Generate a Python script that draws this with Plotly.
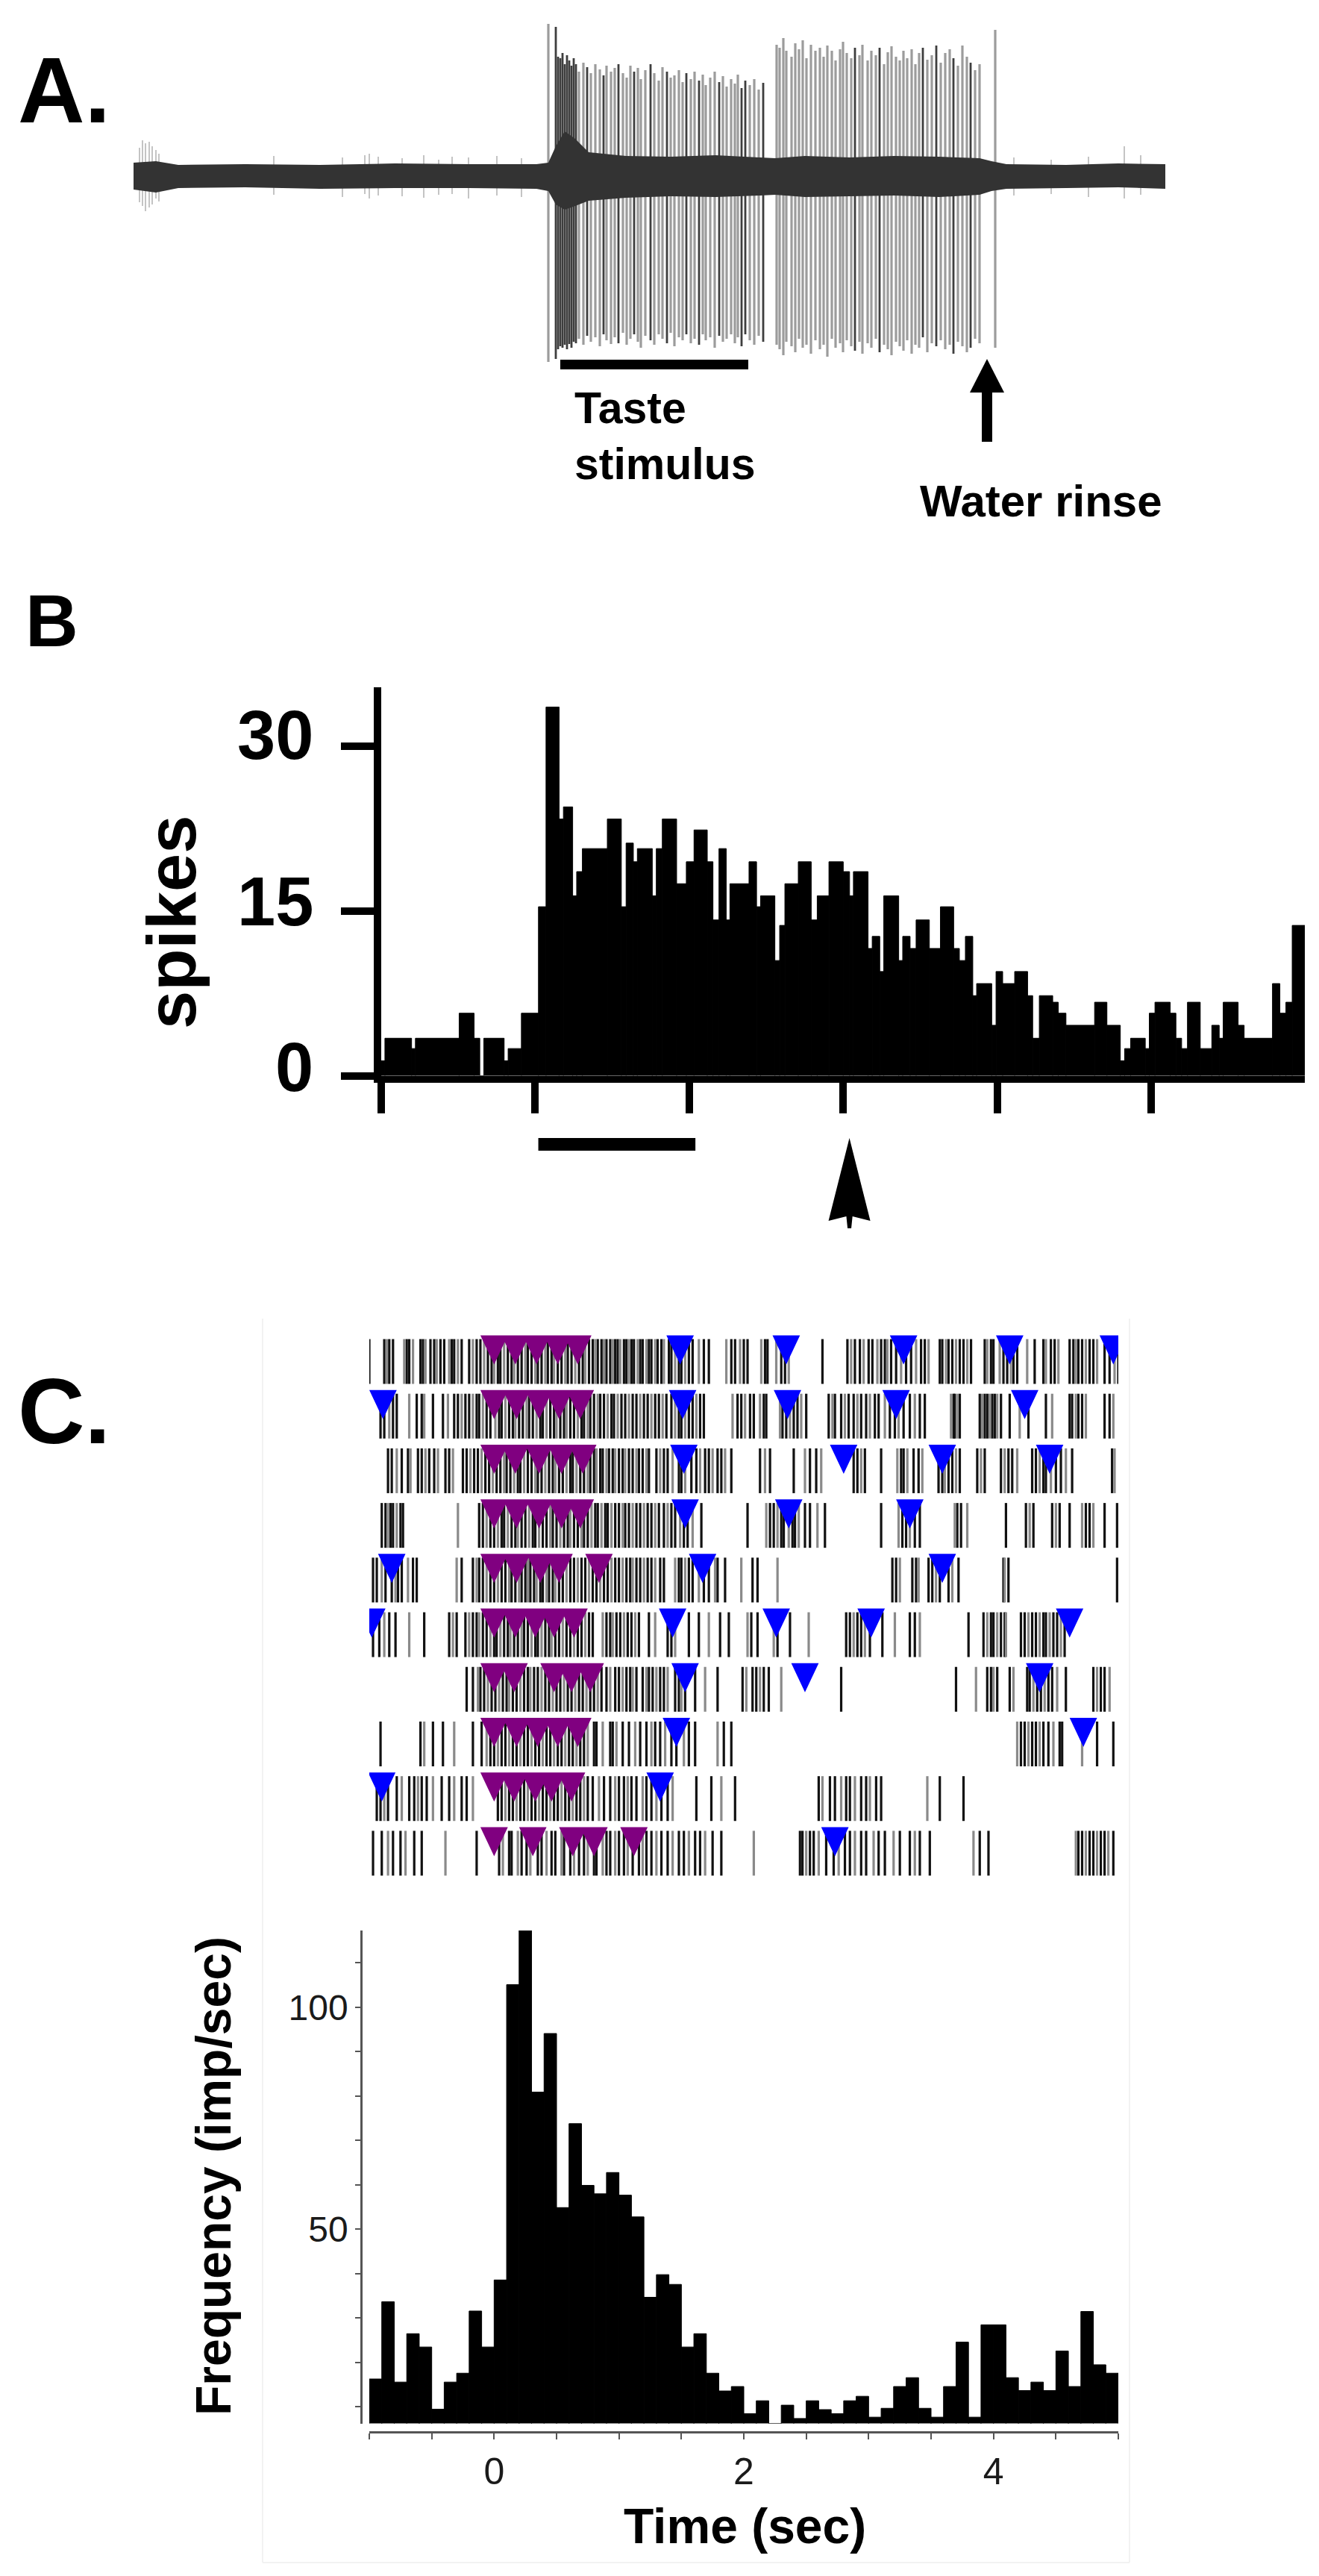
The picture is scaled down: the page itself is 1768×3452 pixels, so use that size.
import plotly.graph_objects as go

W, H = 1768, 3452
FONT = "Liberation Sans, Arial, Helvetica, sans-serif"

# ---------------- Panel A: whole-nerve trace ----------------
# x in samples (0..1383), y amplitude (arbitrary units, 0 = baseline)
a_env_x = [0, 30, 60, 150, 250, 350, 450, 540, 556, 566, 578, 592, 610, 660,
           720, 780, 840, 860, 900, 960, 1020, 1080, 1134, 1150, 1170, 1250, 1320, 1383]
a_env_hi = [18, 20, 15, 16, 15, 17, 16, 16, 18, 40, 60, 50, 32, 27,
            26, 28, 25, 24, 27, 25, 27, 26, 24, 20, 16, 15, 17, 16]
a_env_lo = [-18, -22, -16, -15, -17, -16, -16, -17, -20, -38, -45, -40, -33, -29,
            -27, -28, -26, -25, -28, -27, -26, -28, -25, -20, -17, -16, -15, -17]

a_spk_x = [556, 566, 569, 572, 575, 578, 581, 584, 587, 590,
           593, 597, 603, 608, 613, 619, 625, 630, 634, 640,
           645, 650, 656, 661, 666, 671, 676, 680, 686, 693,
           698, 704, 709, 715, 720, 725, 731, 736, 741, 747,
           752, 758, 763, 767, 773, 779, 785, 790, 795, 801,
           806, 810, 815, 820, 826, 832, 838, 844, 862, 866,
           871, 875, 882, 887, 892, 897, 902, 908, 914, 920,
           925, 930, 936, 941, 947, 951, 956, 962, 967, 973,
           977, 984, 989, 995, 1000, 1006, 1011, 1016, 1022, 1027,
           1032, 1037, 1043, 1048, 1053, 1058, 1064, 1070, 1076, 1082,
           1088, 1094, 1099, 1105, 1111, 1117, 1122, 1128, 1134, 1155]
a_spk_top = [204, 200, 160, 158, 165, 150, 162, 155, 148, 158,
             150, 140, 152, 146, 138, 150, 143, 135, 148, 140,
             145, 150, 138, 132, 148, 140, 145, 130, 142, 150,
             138, 128, 146, 140, 132, 135, 142, 126, 138, 130,
             140, 128, 136, 122, 132, 140, 126, 134, 120, 130,
             124, 136, 118, 128, 122, 130, 116, 125, 176, 172,
             185, 168, 160, 178, 170, 182, 158, 176, 168, 172,
             160, 175, 168, 155, 170, 180, 165, 158, 172, 162,
             176, 155, 168, 162, 172, 150, 166, 174, 160, 155,
             168, 158, 170, 150, 165, 172, 156, 162, 175, 152,
             165, 170, 158, 148, 175, 160, 152, 142, 150, 196]
a_spk_bot = [-249, -245, -232, -228, -230, -226, -232, -225, -230, -222,
             -224, -218, -226, -214, -222, -216, -228, -212, -220, -225,
             -216, -224, -210, -226, -218, -212, -222, -230, -214, -220,
             -226, -212, -218, -224, -210, -228, -216, -220, -212, -224,
             -218, -226, -212, -220, -216, -230, -214, -222, -218, -212,
             -224, -216, -228, -212, -220, -226, -214, -222, -226, -232,
             -240, -222, -228, -236, -218, -230, -226, -238, -220, -232,
             -226, -242, -218, -230, -224, -236, -220, -228, -234, -222,
             -238, -224, -230, -218, -236, -226, -232, -240, -222, -228,
             -234, -220, -238, -226, -230, -216, -236, -224, -228, -220,
             -232, -226, -238, -222, -228, -236, -230, -218, -224, -230]
a_spk_dark = [0, 1, 1, 1, 1, 1, 1, 1, 1, 1,
              1, 0, 0, 1, 0, 0, 0, 1, 0, 0,
              0, 1, 0, 0, 0, 1, 0, 0, 0, 1,
              0, 0, 0, 1, 0, 0, 0, 0, 1, 0,
              0, 1, 0, 0, 0, 0, 1, 0, 0, 0,
              0, 0, 1, 1, 0, 0, 0, 1, 0, 0,
              0, 0, 0, 0, 0, 0, 0, 0, 0, 0,
              0, 0, 0, 0, 0, 0, 0, 0, 1, 0,
              0, 0, 0, 0, 1, 0, 0, 0, 0, 0,
              0, 0, 0, 0, 0, 1, 0, 0, 1, 0,
              0, 0, 1, 0, 0, 0, 1, 0, 0, 0]
a_small_x = [8, 12, 16, 21, 25, 30, 34, 188, 280, 310, 316, 328, 360, 389,
             409, 427, 449, 487, 520, 1180, 1230, 1280, 1328, 1350]
a_small_top = [38, 48, 44, 46, 40, 35, 30, 27, 25, 28, 30, 26, 24, 28,
               22, 26, 25, 27, 24, 25, 22, 26, 40, 28]
a_small_bot = [-35, -40, -47, -42, -38, -30, -34, -25, -28, -24, -30, -26, -27, -29,
               -25, -24, -30, -26, -28, -26, -24, -28, -30, -25]
a_stim = [572, 824]
a_rinse = 1144

# ---------------- Panel B: PSTH of the trace ----------------
b_edges = [0.000, 0.024, 0.197, 0.222, 0.506, 0.603, 0.640, 0.666, 0.798, 0.824,
           0.910, 1.021, 1.070, 1.155, 1.183, 1.243, 1.269, 1.306, 1.468, 1.559,
           1.590, 1.637, 1.663, 1.760, 1.786, 1.825, 1.918, 1.981, 2.031, 2.117,
           2.154, 2.193, 2.240, 2.264, 2.388, 2.437, 2.463, 2.556, 2.587, 2.621,
           2.708, 2.792, 2.831, 2.907, 3.000, 3.041, 3.066, 3.161, 3.188, 3.237,
           3.263, 3.360, 3.386, 3.434, 3.473, 3.559, 3.631, 3.717, 3.754, 3.793,
           3.841, 3.866, 3.964, 3.992, 4.035, 4.113, 4.197, 4.230, 4.273, 4.360,
           4.396, 4.446, 4.632, 4.712, 4.799, 4.827, 4.866, 4.961, 4.987, 5.024,
           5.123, 5.160, 5.197, 5.235, 5.318, 5.393, 5.441, 5.467, 5.564, 5.603,
           5.787, 5.835, 5.874, 5.915, 5.997]
b_spikes = [1.36, 3.42, 2.48, 3.42, 5.70, 3.42, 0.0, 3.42, 1.36, 2.48,
            5.70, 15.4, 33.6, 23.4, 24.5, 16.4, 18.6, 20.7, 23.4, 15.4,
            21.2, 19.5, 20.7, 16.4, 20.7, 23.4, 17.5, 19.5, 22.4, 19.5,
            14.2, 20.7, 14.2, 17.5, 19.5, 15.4, 16.4, 10.5, 13.7, 17.5,
            19.5, 14.2, 16.4, 19.5, 18.6, 16.4, 18.6, 11.6, 12.7, 9.5,
            16.4, 10.5, 12.7, 11.6, 14.2, 11.6, 15.4, 11.6, 10.5, 12.7,
            7.3, 8.4, 4.6, 9.5, 8.4, 9.5, 7.3, 3.42, 7.3, 6.7,
            5.70, 4.6, 6.7, 4.6, 1.36, 2.48, 3.42, 2.48, 5.70, 6.7,
            5.70, 3.42, 2.48, 6.7, 2.48, 4.6, 3.42, 6.7, 4.6, 3.42,
            8.4, 5.70, 6.7, 13.7]
b_yticks = [0, 15, 30]
b_stim = [1.02, 2.04]
b_rinse = 3.04

# ---------------- Panel C: raster (spike times, s) ----------------
trial_1 = [-1.00, -0.88, -0.86, -0.84, -0.81, -0.72, -0.70, -0.68, -0.65, -0.59, -0.57, -0.55,
           -0.51, -0.48, -0.46, -0.43, -0.40, -0.36, -0.34, -0.32, -0.29, -0.26, -0.20, -0.17,
           -0.14, -0.11, -0.08, -0.05, -0.02, 0.00, 0.03, 0.05, 0.08, 0.11, 0.14, 0.16, 0.19,
           0.22, 0.25, 0.27, 0.30, 0.33, 0.35, 0.38, 0.41, 0.43, 0.46, 0.48, 0.51, 0.54, 0.57,
           0.59, 0.62, 0.65, 0.68, 0.71, 0.73, 0.76, 0.79, 0.81, 0.83, 0.86, 0.88, 0.90, 0.93,
           0.95, 0.97, 0.99, 1.01, 1.04, 1.06, 1.08, 1.10, 1.12, 1.15, 1.17, 1.19, 1.22, 1.24,
           1.26, 1.29, 1.31, 1.34, 1.36, 1.40, 1.42, 1.45, 1.48, 1.50, 1.53, 1.56, 1.59, 1.64,
           1.68, 1.72, 1.86, 1.90, 1.93, 1.97, 2.00, 2.03, 2.14, 2.17, 2.19, 2.26, 2.30, 2.33,
           2.36, 2.63, 2.83, 2.86, 2.89, 2.93, 2.96, 3.00, 3.03, 3.07, 3.10, 3.13, 3.15, 3.18,
           3.22, 3.26, 3.30, 3.34, 3.38, 3.42, 3.45, 3.48, 3.57, 3.59, 3.62, 3.64, 3.67, 3.70,
           3.73, 3.76, 3.79, 3.82, 3.93, 3.95, 3.98, 4.00, 4.05, 4.08, 4.11, 4.14, 4.16, 4.19,
           4.27, 4.33, 4.40, 4.42, 4.46, 4.49, 4.52, 4.61, 4.64, 4.66, 4.68, 4.71, 4.74, 4.77,
           4.80, 4.83, 4.89, 4.93, 4.97, 5.00]
trial_2 = [-0.91, -0.88, -0.84, -0.81, -0.78, -0.68, -0.62, -0.58, -0.56, -0.49, -0.41, -0.37,
           -0.32, -0.29, -0.26, -0.23, -0.20, -0.17, -0.14, -0.12, -0.09, -0.06, -0.03, 0.01,
           0.04, 0.06, 0.09, 0.12, 0.15, 0.17, 0.20, 0.23, 0.26, 0.28, 0.31, 0.34, 0.37, 0.39,
           0.42, 0.45, 0.48, 0.50, 0.53, 0.56, 0.58, 0.61, 0.64, 0.67, 0.70, 0.72, 0.75, 0.77,
           0.80, 0.83, 0.85, 0.88, 0.91, 0.94, 0.96, 0.99, 1.02, 1.05, 1.08, 1.11, 1.14, 1.17,
           1.20, 1.23, 1.26, 1.29, 1.32, 1.35, 1.38, 1.42, 1.45, 1.48, 1.50, 1.53, 1.56, 1.59,
           1.62, 1.65, 1.68, 1.91, 1.95, 1.98, 2.01, 2.05, 2.08, 2.13, 2.16, 2.18, 2.29, 2.31,
           2.34, 2.37, 2.40, 2.43, 2.46, 2.50, 2.68, 2.71, 2.73, 2.78, 2.81, 2.84, 2.88, 2.91,
           2.94, 2.98, 3.01, 3.05, 3.08, 3.13, 3.17, 3.21, 3.24, 3.28, 3.33, 3.37, 3.41, 3.45,
           3.66, 3.68, 3.69, 3.71, 3.73, 3.89, 3.91, 3.93, 3.95, 3.97, 3.99, 4.01, 4.03, 4.06,
           4.13, 4.21, 4.28, 4.42, 4.47, 4.61, 4.63, 4.66, 4.68, 4.71, 4.74, 4.89, 4.93, 4.96]
trial_3 = [-0.85, -0.82, -0.78, -0.74, -0.69, -0.67, -0.61, -0.58, -0.55, -0.52, -0.48, -0.45,
           -0.39, -0.36, -0.33, -0.25, -0.22, -0.19, -0.16, -0.13, -0.10, -0.07, -0.04, -0.01,
           0.02, 0.05, 0.08, 0.10, 0.13, 0.16, 0.19, 0.21, 0.24, 0.27, 0.30, 0.33, 0.35, 0.38,
           0.41, 0.44, 0.47, 0.49, 0.52, 0.55, 0.58, 0.61, 0.63, 0.66, 0.69, 0.72, 0.75, 0.77,
           0.80, 0.82, 0.85, 0.87, 0.90, 0.92, 0.95, 0.97, 1.00, 1.03, 1.05, 1.08, 1.11, 1.14,
           1.16, 1.19, 1.22, 1.24, 1.30, 1.33, 1.36, 1.39, 1.43, 1.48, 1.50, 1.53, 1.58, 1.62,
           1.65, 1.69, 1.72, 1.75, 1.79, 1.82, 1.85, 1.90, 2.13, 2.17, 2.21, 2.40, 2.49, 2.53,
           2.58, 2.62, 2.88, 2.91, 2.94, 2.97, 3.10, 3.23, 3.26, 3.28, 3.31, 3.36, 3.40, 3.43,
           3.56, 3.59, 3.61, 3.64, 3.67, 3.70, 3.73, 3.87, 3.90, 3.93, 4.06, 4.09, 4.12, 4.15,
           4.19, 4.31, 4.34, 4.37, 4.40, 4.42, 4.46, 4.50, 4.54, 4.58, 4.63, 4.95, 4.97]
trial_4 = [-0.90, -0.87, -0.85, -0.83, -0.81, -0.78, -0.75, -0.73, -0.29, -0.12, -0.09, -0.06,
           -0.03, 0.00, 0.03, 0.06, 0.08, 0.11, 0.14, 0.17, 0.19, 0.22, 0.25, 0.28, 0.31, 0.33,
           0.36, 0.39, 0.42, 0.45, 0.47, 0.50, 0.53, 0.56, 0.59, 0.61, 0.64, 0.67, 0.70, 0.72,
           0.75, 0.78, 0.81, 0.83, 0.86, 0.89, 0.91, 0.94, 0.97, 1.00, 1.03, 1.05, 1.08, 1.11,
           1.14, 1.17, 1.20, 1.23, 1.26, 1.29, 1.32, 1.36, 1.39, 1.42, 1.45, 1.49, 1.52, 1.55,
           1.59, 1.66, 2.03, 2.18, 2.21, 2.24, 2.27, 2.30, 2.32, 2.36, 2.39, 2.41, 2.44, 2.49,
           2.53, 2.59, 2.65, 3.10, 3.24, 3.27, 3.30, 3.33, 3.37, 3.41, 3.69, 3.71, 3.74, 3.79,
           4.10, 4.26, 4.29, 4.32, 4.47, 4.50, 4.53, 4.61, 4.71, 4.74, 4.77, 4.80, 4.89, 4.99]
trial_5 = [-0.97, -0.94, -0.90, -0.87, -0.82, -0.79, -0.77, -0.74, -0.69, -0.65, -0.62, -0.30,
           -0.26, -0.17, -0.14, -0.12, -0.09, -0.06, -0.03, 0.00, 0.03, 0.06, 0.09, 0.12, 0.14,
           0.17, 0.20, 0.22, 0.25, 0.27, 0.29, 0.32, 0.34, 0.37, 0.39, 0.42, 0.44, 0.47, 0.49,
           0.52, 0.55, 0.58, 0.61, 0.64, 0.67, 0.70, 0.73, 0.76, 0.79, 0.82, 0.85, 0.88, 0.91,
           0.94, 0.97, 1.00, 1.03, 1.06, 1.09, 1.11, 1.14, 1.17, 1.20, 1.23, 1.26, 1.29, 1.33,
           1.36, 1.45, 1.48, 1.50, 1.53, 1.56, 1.59, 1.64, 1.68, 1.72, 1.77, 1.79, 1.85, 1.98,
           2.07, 2.11, 2.27, 3.19, 3.22, 3.25, 3.35, 3.38, 3.40, 3.48, 3.51, 3.54, 3.57, 3.64,
           3.67, 3.72, 4.08, 4.09, 4.12, 4.99]
trial_6 = [-0.97, -0.92, -0.88, -0.84, -0.79, -0.68, -0.56, -0.36, -0.33, -0.30, -0.23, -0.20,
           -0.17, -0.14, -0.12, -0.09, -0.06, -0.03, 0.00, 0.02, 0.05, 0.08, 0.11, 0.13, 0.16,
           0.19, 0.22, 0.24, 0.27, 0.30, 0.33, 0.35, 0.38, 0.41, 0.44, 0.46, 0.49, 0.52, 0.55,
           0.58, 0.61, 0.64, 0.67, 0.70, 0.73, 0.76, 0.79, 0.87, 0.90, 0.93, 0.95, 0.98, 1.01,
           1.04, 1.07, 1.10, 1.13, 1.16, 1.24, 1.29, 1.39, 1.42, 1.45, 1.56, 1.64, 1.72, 1.81,
           1.88, 2.03, 2.06, 2.11, 2.24, 2.27, 2.37, 2.52, 2.82, 2.85, 2.88, 2.91, 2.94, 2.97,
           3.01, 3.11, 3.21, 3.33, 3.37, 3.41, 3.80, 3.92, 3.95, 3.98, 4.00, 4.03, 4.06, 4.09,
           4.10, 4.22, 4.25, 4.28, 4.31, 4.34, 4.37, 4.40, 4.42, 4.45, 4.48, 4.51, 4.54, 4.57]
trial_7 = [-0.22, -0.17, -0.13, -0.11, -0.08, -0.05, -0.02, 0.01, 0.04, 0.07, 0.10, 0.12,
           0.15, 0.18, 0.21, 0.24, 0.27, 0.29, 0.32, 0.35, 0.38, 0.41, 0.44, 0.47, 0.50, 0.53,
           0.56, 0.59, 0.62, 0.65, 0.68, 0.71, 0.74, 0.77, 0.80, 0.83, 0.86, 0.90, 0.93, 0.97,
           1.00, 1.03, 1.06, 1.09, 1.11, 1.14, 1.19, 1.22, 1.24, 1.27, 1.30, 1.33, 1.36, 1.39,
           1.45, 1.48, 1.50, 1.53, 1.61, 1.69, 1.79, 1.99, 2.02, 2.07, 2.10, 2.13, 2.16, 2.20,
           2.30, 2.78, 3.70, 3.86, 3.95, 3.98, 4.00, 4.03, 4.13, 4.16, 4.27, 4.29, 4.32, 4.35,
           4.38, 4.41, 4.44, 4.47, 4.51, 4.58, 4.80, 4.83, 4.86, 4.89, 4.93]
trial_8 = [-0.91, -0.59, -0.56, -0.49, -0.41, -0.32, -0.17, -0.10, -0.06, -0.03, 0.00, 0.03,
           0.06, 0.09, 0.12, 0.15, 0.18, 0.21, 0.24, 0.27, 0.30, 0.33, 0.36, 0.39, 0.42, 0.45,
           0.48, 0.51, 0.54, 0.57, 0.60, 0.63, 0.66, 0.69, 0.72, 0.75, 0.80, 0.82, 0.87, 0.93,
           0.95, 0.98, 1.03, 1.08, 1.13, 1.17, 1.22, 1.26, 1.29, 1.33, 1.37, 1.42, 1.46, 1.52,
           1.56, 1.61, 1.79, 1.84, 1.90, 4.19, 4.22, 4.25, 4.28, 4.31, 4.34, 4.37, 4.40, 4.44,
           4.48, 4.53, 4.55, 4.71, 4.83, 4.96]
trial_9 = [-0.94, -0.91, -0.88, -0.85, -0.78, -0.74, -0.68, -0.64, -0.61, -0.58, -0.54, -0.49,
           -0.42, -0.36, -0.32, -0.26, -0.22, -0.17, 0.03, 0.06, 0.09, 0.12, 0.15, 0.18, 0.21,
           0.24, 0.27, 0.30, 0.33, 0.36, 0.39, 0.42, 0.45, 0.48, 0.51, 0.54, 0.57, 0.60, 0.63,
           0.66, 0.69, 0.72, 0.75, 0.79, 0.84, 0.88, 0.93, 0.97, 1.00, 1.04, 1.07, 1.10, 1.14,
           1.19, 1.22, 1.26, 1.30, 1.34, 1.39, 1.43, 1.62, 1.74, 1.82, 1.93, 2.60, 2.63, 2.69,
           2.73, 2.78, 2.82, 2.85, 2.89, 2.94, 2.98, 3.01, 3.06, 3.10, 3.47, 3.57, 3.76]
trial_10 = [-0.97, -0.90, -0.85, -0.81, -0.75, -0.71, -0.64, -0.58, -0.39, -0.14, 0.04, 0.07,
            0.12, 0.14, 0.19, 0.22, 0.26, 0.29, 0.35, 0.38, 0.42, 0.46, 0.49, 0.54, 0.56, 0.61,
            0.64, 0.68, 0.72, 0.75, 0.80, 0.82, 0.87, 0.90, 0.93, 0.97, 1.00, 1.04, 1.07, 1.11,
            1.16, 1.19, 1.22, 1.26, 1.30, 1.34, 1.39, 1.43, 1.48, 1.52, 1.56, 1.61, 1.65, 1.69,
            1.75, 1.82, 2.08, 2.45, 2.47, 2.50, 2.53, 2.56, 2.60, 2.66, 2.72, 2.76, 2.81, 2.85,
            2.89, 2.94, 2.98, 3.04, 3.08, 3.13, 3.20, 3.25, 3.33, 3.37, 3.41, 3.49, 3.84, 3.89,
            3.96, 4.66, 4.68, 4.71, 4.74, 4.77, 4.80, 4.83, 4.86, 4.89, 4.92, 4.96]
trials = [trial_1, trial_2, trial_3, trial_4, trial_5,
          trial_6, trial_7, trial_8, trial_9, trial_10]

# event markers per trial (s): purple = lick/stimulus events, blue = other events
purple_events = [[0.00, 0.17, 0.34, 0.51, 0.67], [0.00, 0.18, 0.36, 0.52, 0.69],
                 [0.00, 0.17, 0.36, 0.54, 0.71], [0.00, 0.18, 0.36, 0.54, 0.69],
                 [0.00, 0.18, 0.37, 0.52, 0.84], [0.00, 0.17, 0.33, 0.48, 0.64],
                 [0.00, 0.16, 0.48, 0.62, 0.77], [0.00, 0.18, 0.35, 0.51, 0.67],
                 [0.00, 0.16, 0.33, 0.46, 0.62], [0.00, 0.31, 0.63, 0.80, 1.12]]
blue_events = [[1.49, 2.34, 3.28, 4.13, 4.96], [-0.89, 1.51, 2.35, 3.22, 4.25],
               [1.52, 2.80, 3.59, 4.45], [1.53, 2.36, 3.33],
               [-0.82, 1.67, 3.59], [-0.98, 1.43, 2.26, 3.02, 4.61],
               [1.53, 2.49, 4.37], [1.46, 4.72], [-0.90, 1.33], [2.73]]

# PSTH (imp/sec), 0.1 s bins starting at -1 s
c_t0 = -1.0
c_bin = 0.1
c_rate = [16.3, 33.7, 15.6, 26.5, 23.5, 9.5, 15.6, 17.6, 31.6, 23.5,
          38.6, 105.1, 117.3, 80.9, 94.1, 54.9, 73.8, 59.9, 58.0, 62.8,
          57.7, 52.8, 34.7, 39.8, 37.6, 23.5, 26.5, 17.6, 13.6, 14.6,
          8.5, 11.4, 6.3, 10.4, 7.4, 11.4, 9.4, 8.5, 11.4, 12.4,
          7.7, 9.7, 14.6, 16.6, 9.7, 7.7, 14.6, 24.6, 7.7, 28.5,
          28.5, 16.6, 13.7, 15.6, 13.7, 22.6, 14.6, 31.5, 19.5, 17.6]


def px(p):
    return p / W


def py(p):
    return 1 - p / H


fig = go.Figure()

# ---- A: spikes, small noise spikes, noise band ----
sx, sy = [], []
for x, t, b in zip(a_small_x, a_small_top, a_small_bot):
    sx += [x, x, None]
    sy += [b, t, None]
fig.add_trace(go.Scatter(x=sx, y=sy, mode="lines", line=dict(color="#b0b0b0", width=1.5),
                         xaxis="x", yaxis="y", hoverinfo="skip"))
for shade, col, lw in [(0, "#9c9c9c", 3.2), (1, "#3e3e3e", 2.8)]:
    xs, ys = [], []
    for x, t, b, d in zip(a_spk_x, a_spk_top, a_spk_bot, a_spk_dark):
        if d == shade:
            xs += [x, x, None]
            ys += [b, t, None]
    fig.add_trace(go.Scatter(x=xs, y=ys, mode="lines", line=dict(color=col, width=lw),
                             xaxis="x", yaxis="y", hoverinfo="skip"))
fig.add_trace(go.Scatter(x=a_env_x + a_env_x[::-1], y=a_env_hi + a_env_lo[::-1],
                         fill="toself", fillcolor="#333333", mode="lines",
                         line=dict(width=0, color="#333333"), xaxis="x", yaxis="y",
                         hoverinfo="skip"))

# ---- B: histogram ----
b_width = [b_edges[i + 1] - b_edges[i] for i in range(len(b_spikes))]
fig.add_trace(go.Bar(x=b_edges[:-1], y=b_spikes, width=b_width, offset=0,
                     marker=dict(color="black", line=dict(color="black", width=1)),
                     xaxis="x2", yaxis="y2", hoverinfo="skip"))

# ---- C: raster ----
tick_half = 0.41
for shade, col in [(0, "#111111"), (1, "#8a8a8a")]:
    xs, ys = [], []
    for r, times in enumerate(trials, start=1):
        for i, t in enumerate(times):
            if (i % 3 == 2) == bool(shade):
                xs += [t, t, None]
                ys += [r - tick_half, r + tick_half, None]
    fig.add_trace(go.Scatter(x=xs, y=ys, mode="lines", line=dict(color=col, width=3.2),
                             xaxis="x3", yaxis="y3", hoverinfo="skip"))

tri_hw = 0.11
tri_top, tri_tip = -0.478, 0.055
for events, col in [(purple_events, "#800080"), (blue_events, "#0000ff")]:
    xs, ys = [], []
    for r, evs in enumerate(events, start=1):
        for t in evs:
            xs += [t - tri_hw, t + tri_hw, t, t - tri_hw, None]
            ys += [r + tri_top, r + tri_top, r + tri_tip, r + tri_top, None]
    fig.add_trace(go.Scatter(x=xs, y=ys, mode="lines", fill="toself", fillcolor=col,
                             line=dict(width=0, color=col), xaxis="x3", yaxis="y3",
                             hoverinfo="skip"))

# ---- C: PSTH ----
c_x = [c_t0 + c_bin * (i + 0.5) for i in range(len(c_rate))]
fig.add_trace(go.Bar(x=c_x, y=c_rate, width=c_bin,
                     marker=dict(color="black", line=dict(color="black", width=1)),
                     xaxis="x4", yaxis="y4", hoverinfo="skip"))

hidden = dict(visible=False, showgrid=False, zeroline=False)
c_xticks = [-1 + 0.5 * i for i in range(13)]
c_yticks = [10 * i for i in range(1, 12)]

fig.update_layout(
    width=W, height=H, margin=dict(l=0, r=0, t=0, b=0),
    paper_bgcolor="white", plot_bgcolor="white", showlegend=False,
    font=dict(family=FONT, color="black"),
    # A
    xaxis=dict(domain=[px(171), px(1554)], range=[0, 1383], anchor="y", **hidden),
    yaxis=dict(domain=[py(700), py(20)], range=[-472, 208], anchor="x", **hidden),
    # B
    xaxis2=dict(domain=[px(503), px(1741)], range=[0, 5.997], anchor="y2",
                showline=True, linewidth=9, linecolor="black", ticks="outside",
                tickvals=[0, 1, 2, 3, 4, 5], ticklen=41, tickwidth=10, tickcolor="black",
                showticklabels=False, showgrid=False, zeroline=False),
    yaxis2=dict(domain=[py(1433.6), py(913)], range=[0, 35.4], anchor="x2",
                showline=True, linewidth=10, linecolor="black", ticks="outside",
                tickvals=b_yticks, ticklen=44, tickwidth=10, tickcolor="black",
                showticklabels=False, showgrid=False, zeroline=False),
    # C raster
    xaxis3=dict(domain=[px(487), px(1491)], range=[-1, 5], anchor="y3", **hidden),
    yaxis3=dict(domain=[py(2520), py(1770)], range=[10.609, 0.365], anchor="x3", **hidden),
    # C psth
    xaxis4=dict(domain=[px(487), px(1491)], range=[-1, 5], anchor="free", position=py(3251),
                showline=True, linewidth=2.5, linecolor="#555555", ticks="outside",
                tickvals=c_xticks,
                ticktext=[str(int(v)) if v in (0, 2, 4) else "" for v in c_xticks],
                ticklen=8, tickwidth=2, tickcolor="#555555",
                tickfont=dict(family=FONT, size=50, color="#1a1a1a"),
                showgrid=False, zeroline=False),
    yaxis4=dict(domain=[py(3239.5), py(2579)], range=[6.3, 117.3], anchor="free",
                position=px(476), showline=True, linewidth=2.5, linecolor="#555555",
                ticks="outside", tickvals=c_yticks,
                ticktext=[str(v) if v in (50, 100) else "" for v in c_yticks],
                ticklen=7, tickwidth=2, tickcolor="#555555",
                tickfont=dict(family=FONT, size=48, color="#1a1a1a"),
                showgrid=False, zeroline=False),
)

shapes = []
# A stimulus bar and rinse arrow
shapes.append(dict(type="rect", xref="x", yref="y", x0=a_stim[0], x1=a_stim[1],
                   y0=-259, y1=-246, fillcolor="black", line=dict(width=0)))
shapes.append(dict(type="rect", xref="x", yref="y", x0=a_rinse - 7, x1=a_rinse + 7,
                   y0=-356, y1=-288, fillcolor="black", line=dict(width=0)))
shapes.append(dict(type="path", xref="x", yref="y",
                   path=f"M{a_rinse - 23},-290 L{a_rinse + 23},-290 L{a_rinse},-245 Z",
                   fillcolor="black", line=dict(width=0)))
# B stimulus bar and rinse arrowhead (below the axis)
shapes.append(dict(type="rect", xref="x2", yref="paper", x0=b_stim[0], x1=b_stim[1],
                   y0=py(1534), y1=py(1517), fillcolor="black", line=dict(width=0)))
hw = 28 / 206.4
shapes.append(dict(type="path", xref="x2", yref="paper",
                   path=(f"M{b_rinse},{py(1517)} L{b_rinse + hw},{py(1628)} "
                         f"L{b_rinse + 0.02},{py(1622)} L{b_rinse + 0.012},{py(1638)} "
                         f"L{b_rinse - 0.012},{py(1638)} L{b_rinse - 0.02},{py(1622)} "
                         f"L{b_rinse - hw},{py(1628)} Z"),
                   fillcolor="black", line=dict(width=0)))
# faint frame around panel C
for x0, y0, x1, y1 in [(344, 1759, 344, 3426), (1506, 1759, 1506, 3426), (344, 3426, 1506, 3426)]:
    shapes.append(dict(type="line", xref="paper", yref="paper", x0=px(x0), x1=px(x1),
                       y0=py(y0), y1=py(y1), line=dict(color="#eeeeee", width=1.5)))
fig.update_layout(shapes=shapes)

ann = []


def label(text, x, y, size, xanchor="left", angle=0, color="black", xref="paper", yref="paper"):
    ann.append(dict(text=text, x=x, y=y, xref=xref, yref=yref, xanchor=xanchor,
                    yanchor="middle", showarrow=False, textangle=angle,
                    font=dict(family=FONT, size=size, color=color)))


label("<b>A.</b>", px(14), py(113.5), 124)
label("<b>B</b>", px(24), py(824.5), 98)
label("<b>C.</b>", px(14), py(1883), 124)
label("<b>Taste</b>", 589, -311, 59, xref="x", yref="y")
label("<b>stimulus</b>", 589, -386, 59, xref="x", yref="y")
label("<b>Water rinse</b>", 1052, -436, 60, xref="x", yref="y")
for v, yc in zip(b_yticks, [1422, 1199.5, 977.5]):
    label(f"<b>{v}</b>", px(414), py(yc), 92, xanchor="right")
label("<b>spikes</b>", px(222), py(1228), 92, xanchor="center", angle=-90)
label("<b>Frequency (imp/sec)</b>", px(278), py(2908), 66, xanchor="center", angle=-90)
label("<b>Time (sec)</b>", px(990), py(3377), 66, xanchor="center")
fig.update_layout(annotations=ann)

fig.write_html("out.html", config={"displayModeBar": False})
